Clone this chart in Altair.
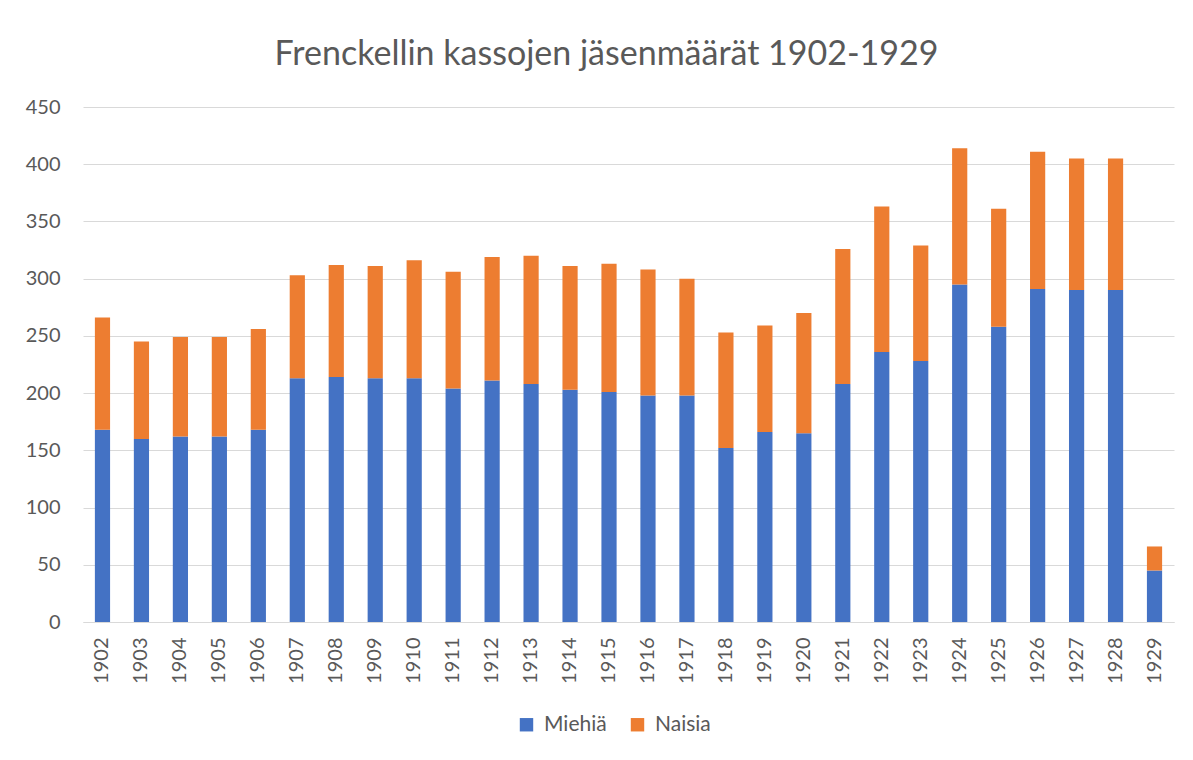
import altair as alt
import pandas as pd

years = ["1902", "1903", "1904", "1905", "1906", "1907", "1908", "1909", "1910", "1911",
         "1912", "1913", "1914", "1915", "1916", "1917", "1918", "1919", "1920", "1921",
         "1922", "1923", "1924", "1925", "1926", "1927", "1928", "1929"]
miehia = [168, 160, 162, 162, 168, 213, 214, 213, 213, 204,
          211, 208, 203, 201, 198, 198, 152, 166, 165, 208,
          236, 228, 295, 258, 291, 290, 290, 45]
naisia = [98, 85, 87, 87, 88, 90, 98, 98, 103, 102,
          108, 112, 108, 112, 110, 102, 101, 93, 105, 118,
          127, 101, 119, 103, 120, 115, 115, 21]
series = ["Miehiä", "Naisia"]
colors = ["#4472C4", "#ED7D31"]

rows = []
for i, y in enumerate(years):
    rows.append({"vuosi": y, "sarja": series[0], "arvo": miehia[i], "jarj": 0})
    rows.append({"vuosi": y, "sarja": series[1], "arvo": naisia[i], "jarj": 1})
df = pd.DataFrame(rows)

FONT = "Lato"
GREY = "#595959"

chart = alt.Chart(df).mark_bar().encode(
    x=alt.X("vuosi:N", sort=years, title=None,
            scale=alt.Scale(paddingInner=0.61, paddingOuter=0.305),
            axis=alt.Axis(labelAngle=270, labelFontSize=20, labelColor=GREY, labelFont=FONT,
                          ticks=False, domainColor="#d9d9d9", labelPadding=15,
                          labelAlign="right", labelBaseline="middle")),
    y=alt.Y("arvo:Q", stack="zero", title=None,
            scale=alt.Scale(domain=[0, 450], nice=False),
            axis=alt.Axis(values=list(range(0, 451, 50)), labelFontSize=20, labelColor=GREY,
                          labelFont=FONT, ticks=False, domain=False, labelPadding=23,
                          gridColor="#d9d9d9", gridWidth=1)),
    color=alt.Color("sarja:N", scale=alt.Scale(domain=series, range=colors),
                    legend=alt.Legend(title=None, orient="none", direction="horizontal",
                                      legendX=433, legendY=607, symbolType="square",
                                      symbolSize=180, symbolStrokeWidth=0,
                                      labelFontSize=21, labelColor=GREY, labelFont=FONT,
                                      columnPadding=20, labelOffset=7)),
    order=alt.Order("jarj:Q", sort="ascending"),
).properties(
    width=1091,
    height=515,
    title=alt.TitleParams("Frenckellin kassojen jäsenmäärät 1902-1929", fontSize=34,
                          font=FONT, fontWeight="normal", color=GREY, anchor="middle",
                          frame="group", baseline="alphabetic", dx=-22, offset=-2),
    autosize=alt.AutoSizeParams(type="none"),
    padding={"left": 75, "top": 99, "right": 11, "bottom": 130},
).configure(background="white").configure_view(stroke=None)

chart.save("out.html", embed_options={"renderer": "svg", "actions": False})
